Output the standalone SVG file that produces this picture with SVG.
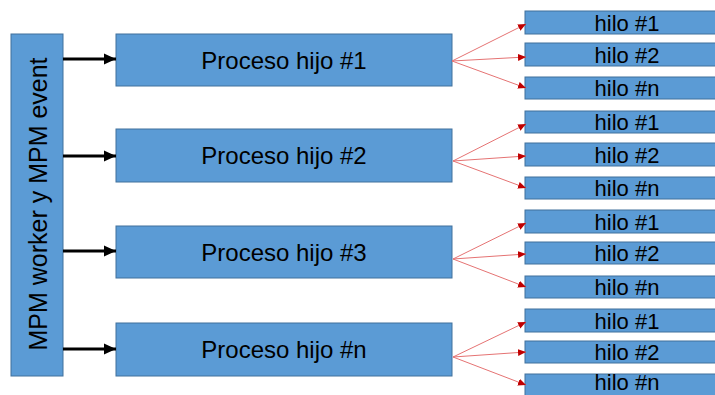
<svg xmlns="http://www.w3.org/2000/svg" width="715" height="395" viewBox="0 0 715 395">
<style>
.box{fill:#5B9BD5;stroke:#41719C;stroke-width:1}
.t{font-family:"Liberation Sans",Arial,sans-serif;fill:#000;text-anchor:middle;dominant-baseline:central}
.pt{font-size:24px}
.vt{font-size:25px}
.ht{font-size:22px}
.blk{stroke:#000;stroke-width:3;fill:none}
.red{stroke:#E57373;stroke-width:1;fill:none}
</style>
<defs>
<marker id="ab" markerUnits="userSpaceOnUse" markerWidth="14" markerHeight="14" refX="12" refY="7" orient="auto">
<path d="M0,1.5 L12,7 L0,12.5 z" fill="#000"/>
</marker>
<marker id="ar" markerUnits="userSpaceOnUse" markerWidth="10" markerHeight="10" refX="8" refY="5" orient="auto">
<path d="M0,1.5 L8,5 L0,8.5 z" fill="#C00000"/>
</marker>
</defs>
<rect width="715" height="395" fill="#fff"/>
<g id="mpm">
<rect class="box" x="11" y="34" width="52" height="342"/>
<text class="t vt" transform="translate(38,204) rotate(-90)">MPM worker y MPM event</text>
</g>
<g id="p1"><rect class="box" x="116" y="34" width="336" height="52"/><text class="t pt" x="284" y="60">Proceso hijo #1</text></g>
<g id="p2"><rect class="box" x="116" y="129" width="336" height="53"/><text class="t pt" x="284" y="155.5">Proceso hijo #2</text></g>
<g id="p3"><rect class="box" x="116" y="226" width="336" height="52"/><text class="t pt" x="284" y="252">Proceso hijo #3</text></g>
<g id="pn"><rect class="box" x="116" y="323" width="336" height="53"/><text class="t pt" x="284" y="349.5">Proceso hijo #n</text></g>

<g id="h1-1"><rect class="box" x="525" y="11" width="210" height="23"/><text class="t ht" x="627" y="23">hilo #1</text></g>
<g id="h1-2"><rect class="box" x="525" y="43" width="210" height="23"/><text class="t ht" x="627" y="55">hilo #2</text></g>
<g id="h1-n"><rect class="box" x="525" y="77" width="210" height="22"/><text class="t ht" x="627" y="88.5">hilo #n</text></g>

<g id="h2-1"><rect class="box" x="525" y="111" width="210" height="22"/><text class="t ht" x="627" y="122.5">hilo #1</text></g>
<g id="h2-2"><rect class="box" x="525" y="143" width="210" height="23"/><text class="t ht" x="627" y="155">hilo #2</text></g>
<g id="h2-n"><rect class="box" x="525" y="177" width="210" height="22"/><text class="t ht" x="627" y="188.5">hilo #n</text></g>

<g id="h3-1"><rect class="box" x="525" y="210" width="210" height="23"/><text class="t ht" x="627" y="222">hilo #1</text></g>
<g id="h3-2"><rect class="box" x="525" y="242" width="210" height="22"/><text class="t ht" x="627" y="253.5">hilo #2</text></g>
<g id="h3-n"><rect class="box" x="525" y="276" width="210" height="22"/><text class="t ht" x="627" y="287.5">hilo #n</text></g>

<g id="h4-1"><rect class="box" x="525" y="309" width="210" height="23"/><text class="t ht" x="627" y="321">hilo #1</text></g>
<g id="h4-2"><rect class="box" x="525" y="341" width="210" height="22"/><text class="t ht" x="627" y="352.5">hilo #2</text></g>
<g id="h4-n"><rect class="box" x="525" y="374" width="210" height="23"/><text class="t ht" x="627" y="382">hilo #n</text></g>

<g id="connectors">
<line class="blk" x1="63" y1="59" x2="116" y2="59" marker-end="url(#ab)"/>
<line class="blk" x1="63" y1="156" x2="116" y2="156" marker-end="url(#ab)"/>
<line class="blk" x1="63" y1="251" x2="116" y2="251" marker-end="url(#ab)"/>
<line class="blk" x1="63" y1="349" x2="116" y2="349" marker-end="url(#ab)"/>

<line class="red" x1="452" y1="61" x2="526" y2="24" marker-end="url(#ar)"/>
<line class="red" x1="452" y1="61" x2="526" y2="57" marker-end="url(#ar)"/>
<line class="red" x1="452" y1="61" x2="526" y2="88" marker-end="url(#ar)"/>

<line class="red" x1="453" y1="161" x2="526" y2="124" marker-end="url(#ar)"/>
<line class="red" x1="453" y1="161" x2="526" y2="156" marker-end="url(#ar)"/>
<line class="red" x1="453" y1="161" x2="526" y2="188" marker-end="url(#ar)"/>

<line class="red" x1="453" y1="259" x2="526" y2="223" marker-end="url(#ar)"/>
<line class="red" x1="453" y1="259" x2="526" y2="254" marker-end="url(#ar)"/>
<line class="red" x1="453" y1="259" x2="526" y2="287" marker-end="url(#ar)"/>

<line class="red" x1="453" y1="357" x2="526" y2="322" marker-end="url(#ar)"/>
<line class="red" x1="453" y1="357" x2="526" y2="352" marker-end="url(#ar)"/>
<line class="red" x1="453" y1="357" x2="526" y2="385" marker-end="url(#ar)"/>
</g>
</svg>
